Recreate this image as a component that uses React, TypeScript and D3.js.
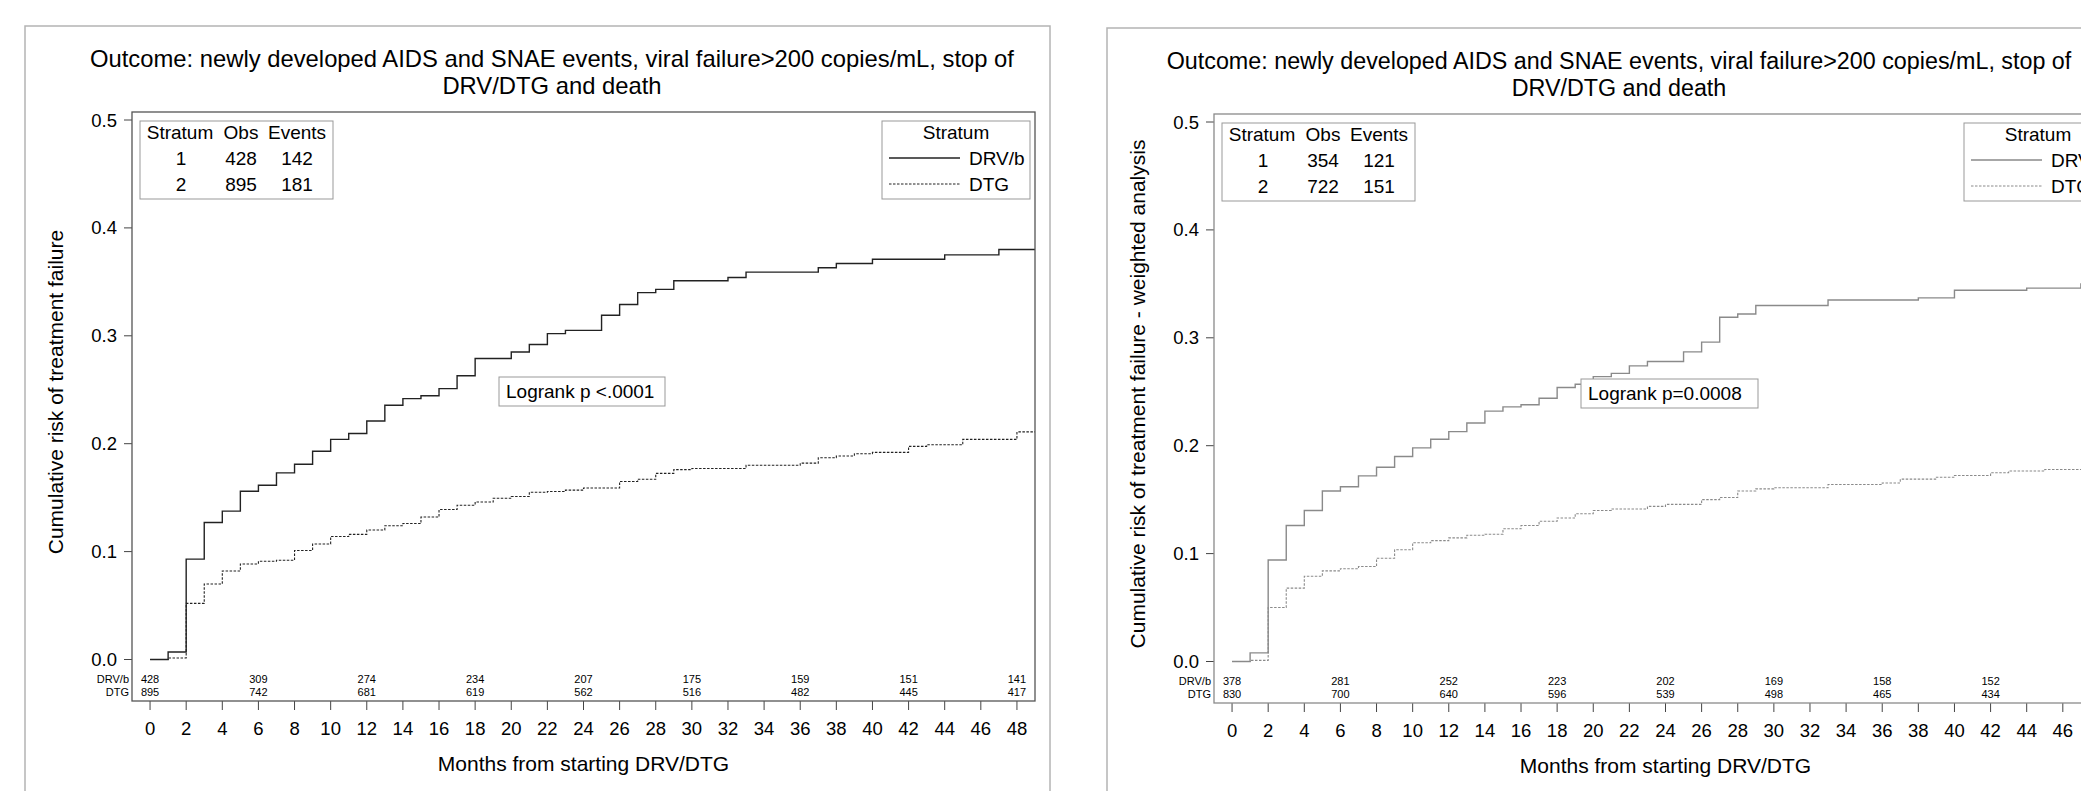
import React from "react";
import * as d3 from "d3";

// ---- data ----
const xTicks = [0, 2, 4, 6, 8, 10, 12, 14, 16, 18, 20, 22, 24, 26, 28, 30, 32, 34, 36, 38, 40, 42, 44, 46, 48];
const yTicks = [0, 0.1, 0.2, 0.3, 0.4, 0.5];
const riskMonths = [0, 6, 12, 18, 24, 30, 36, 42, 48];

// panel 1 (unweighted)
const p1DrvTime = [0, 1, 2, 3, 4, 5, 6, 7, 8, 9, 10, 11, 12, 13, 14, 15, 16, 17, 18, 20, 21, 22, 23, 25, 26, 27, 28, 29, 32, 33, 37, 38, 40, 44, 47, 49];
const p1DrvRisk = [0, 0.007, 0.093, 0.127, 0.1375, 0.156, 0.1615, 0.173, 0.181, 0.193, 0.204, 0.2095, 0.221, 0.2356, 0.2418, 0.2445, 0.251, 0.263, 0.279, 0.285, 0.292, 0.302, 0.305, 0.319, 0.329, 0.34, 0.343, 0.351, 0.354, 0.359, 0.363, 0.367, 0.371, 0.375, 0.38, 0.38];
const p1DtgTime = [0, 1, 2, 3, 4, 5, 6, 7, 8, 9, 10, 11, 12, 13, 14, 15, 16, 17, 18, 19, 20, 21, 22, 23, 24, 26, 27, 28, 29, 30, 33, 36, 37, 38, 39, 40, 42, 43, 45, 48, 49];
const p1DtgRisk = [0, 0.0014, 0.052, 0.07, 0.082, 0.0885, 0.091, 0.092, 0.101, 0.107, 0.114, 0.116, 0.12, 0.124, 0.126, 0.132, 0.139, 0.143, 0.146, 0.1495, 0.151, 0.155, 0.1557, 0.157, 0.159, 0.165, 0.167, 0.1725, 0.176, 0.177, 0.18, 0.182, 0.187, 0.1886, 0.1907, 0.192, 0.1975, 0.199, 0.204, 0.211, 0.211];
const p1AtRiskDrv = [428, 309, 274, 234, 207, 175, 159, 151, 141];
const p1AtRiskDtg = [895, 742, 681, 619, 562, 516, 482, 445, 417];
const p1Obs = [428, 895];
const p1Events = [142, 181];

// panel 2 (weighted)
const p2DrvTime = [0, 1, 2, 3, 4, 5, 6, 7, 8, 9, 10, 11, 12, 13, 14, 15, 16, 17, 18, 19, 20, 21, 22, 23, 25, 26, 27, 28, 29, 33, 38, 40, 44, 47, 49];
const p2DrvRisk = [0, 0.008, 0.094, 0.126, 0.14, 0.158, 0.162, 0.172, 0.18, 0.19, 0.198, 0.206, 0.213, 0.221, 0.232, 0.236, 0.238, 0.244, 0.254, 0.257, 0.264, 0.267, 0.274, 0.278, 0.287, 0.296, 0.319, 0.322, 0.33, 0.335, 0.337, 0.344, 0.346, 0.35, 0.35];
const p2DtgTime = [0, 1, 2, 3, 4, 5, 6, 7, 8, 9, 10, 11, 12, 13, 14, 15, 16, 17, 18, 19, 20, 21, 23, 24, 26, 27, 28, 29, 30, 33, 36, 37, 39, 40, 42, 43, 45, 49];
const p2DtgRisk = [0, 0.001, 0.05, 0.068, 0.079, 0.084, 0.086, 0.088, 0.0957, 0.1036, 0.11, 0.112, 0.1146, 0.117, 0.118, 0.123, 0.126, 0.13, 0.133, 0.137, 0.14, 0.1414, 0.1438, 0.1456, 0.15, 0.152, 0.158, 0.16, 0.161, 0.164, 0.1655, 0.169, 0.1707, 0.1724, 0.175, 0.1765, 0.178, 0.178];
const p2AtRiskDrv = [378, 281, 252, 223, 202, 169, 158, 152];
const p2AtRiskDtg = [830, 700, 640, 596, 539, 498, 465, 434];
const p2Obs = [354, 722];
const p2Events = [121, 151];

const strata = ["DRV/b", "DTG"];
const FONT = "'Liberation Sans', Arial, Helvetica, sans-serif";

type PanelProps = {
    dx: number;
    dy: number;
    titleX: number;
    titleSize: number;
    yLabel: string;
    logrank: string;
    logrankW: number;
    drv: [number[], number[]];
    dtg: [number[], number[]];
    atRisk: [number[], number[]];
    obs: number[];
    events: number[];
    lineColor: string;
    frameColor: string;
};

const Panel = (props: PanelProps) => {
    let {dx, dy, titleX, titleSize, yLabel, logrank, logrankW, drv, dtg, atRisk, obs, events, lineColor, frameColor} = props;

    const left = 132, right = 1035, top = 112, bottom = 701;
    const x = d3.scaleLinear().domain([-1, 49]).range([left, right]);
    const y = d3.scaleLinear().domain([0, 0.5]).range([659.5, 120]);

    const line = d3.line<[number, number]>()
        .x(d => x(d[0]))
        .y(d => y(d[1]))
        .curve(d3.curveStepAfter);

    const pts = (s: [number[], number[]]) => s[0].map((t, i) => [t, s[1][i]] as [number, number]);

    return (
        <g transform={`translate(${dx},${dy})`} fontFamily={FONT}>
            <rect x={25} y={26} width={1025} height={820} fill="none" stroke="#b4b4b4" strokeWidth={1.5}/>
            <text x={titleX} y={67} textAnchor="middle" fontSize={titleSize}>
                Outcome: newly developed AIDS and SNAE events, viral failure&gt;200 copies/mL, stop of
            </text>
            <text x={titleX} y={93.5} textAnchor="middle" fontSize={titleSize}>DRV/DTG and death</text>

            {/* y axis */}
            {yTicks.map(t => (
                <g key={t}>
                    <line x1={left - 8} x2={left} y1={y(t)} y2={y(t)} stroke="#444"/>
                    <text x={left - 15} y={y(t) + 6.5} textAnchor="end" fontSize={18.5}>{d3.format(".1f")(t)}</text>
                </g>
            ))}
            <text transform={`translate(63,392) rotate(-90)`} textAnchor="middle" fontSize={21}>{yLabel}</text>

            {/* x axis */}
            {xTicks.map(t => (
                <g key={t}>
                    <line x1={x(t)} x2={x(t)} y1={bottom} y2={bottom + 9} stroke="#444"/>
                    <text x={x(t)} y={735} textAnchor="middle" fontSize={18.5}>{t}</text>
                </g>
            ))}
            <text x={x(24)} y={771} textAnchor="middle" fontSize={21}>Months from starting DRV/DTG</text>

            {/* curves */}
            <path d={line(pts(drv)) || ""} fill="none" stroke={lineColor} strokeWidth={1.4}/>
            <path d={line(pts(dtg)) || ""} fill="none" stroke={lineColor} strokeWidth={1.1} strokeDasharray="2.5,1.5"/>

            {/* number at risk */}
            {strata.map((s, r) => (
                <g key={s} fontSize={11}>
                    <text x={left - 3} y={683 + r * 13} textAnchor="end">{s}</text>
                    {atRisk[r].map((n, i) => (
                        <text key={i} x={x(riskMonths[i])} y={683 + r * 13} textAnchor="middle">{n}</text>
                    ))}
                </g>
            ))}

            <rect x={left} y={top} width={right - left} height={bottom - top} fill="none" stroke={frameColor} strokeWidth={1.3}/>

            {/* stratum table */}
            <g fontSize={19}>
                <rect x={140} y={121} width={193} height={78} fill="white" stroke="#999"/>
                <text x={180} y={139} textAnchor="middle">Stratum</text>
                <text x={241} y={139} textAnchor="middle">Obs</text>
                <text x={297} y={139} textAnchor="middle">Events</text>
                {obs.map((o, i) => (
                    <g key={i}>
                        <text x={181} y={165 + i * 26} textAnchor="middle">{i + 1}</text>
                        <text x={241} y={165 + i * 26} textAnchor="middle">{o}</text>
                        <text x={297} y={165 + i * 26} textAnchor="middle">{events[i]}</text>
                    </g>
                ))}
            </g>

            {/* legend */}
            <g fontSize={19}>
                <rect x={882} y={121} width={148} height={78} fill="white" stroke="#999"/>
                <text x={956} y={139} textAnchor="middle">Stratum</text>
                {strata.map((s, i) => (
                    <g key={s}>
                        <line x1={889} x2={960} y1={158 + i * 26} y2={158 + i * 26} stroke={lineColor}
                              strokeWidth={i ? 1 : 1.3} strokeDasharray={i ? "2.5,1.5" : undefined}/>
                        <text x={969} y={165 + i * 26}>{s}</text>
                    </g>
                ))}
            </g>

            {/* logrank inset */}
            <g fontSize={19}>
                <rect x={499} y={377} width={logrankW} height={29} fill="white" stroke="#999"/>
                <text x={506} y={398}>{logrank}</text>
            </g>
        </g>
    );
};

const App = () => {
    return (
        <svg width={2081} height={791} style={{position: "absolute", left: 0, top: 0, background: "white"}}>
            <rect width={2081} height={791} fill="white"/>
            <Panel dx={0} dy={0} titleX={552} titleSize={23.8} yLabel="Cumulative risk of treatment failure"
                   logrank="Logrank p <.0001" logrankW={166}
                   drv={[p1DrvTime, p1DrvRisk]} dtg={[p1DtgTime, p1DtgRisk]}
                   atRisk={[p1AtRiskDrv, p1AtRiskDtg]} obs={p1Obs} events={p1Events}
                   lineColor="#222" frameColor="#555"/>
            <Panel dx={1082} dy={2} titleX={537} titleSize={23.3} yLabel="Cumulative risk of treatment failure - weighted analysis"
                   logrank="Logrank p=0.0008" logrankW={177}
                   drv={[p2DrvTime, p2DrvRisk]} dtg={[p2DtgTime, p2DtgRisk]}
                   atRisk={[p2AtRiskDrv, p2AtRiskDtg]} obs={p2Obs} events={p2Events}
                   lineColor="#8a8a8a" frameColor="#8a8a8a"/>
        </svg>
    );
};

export default App;
